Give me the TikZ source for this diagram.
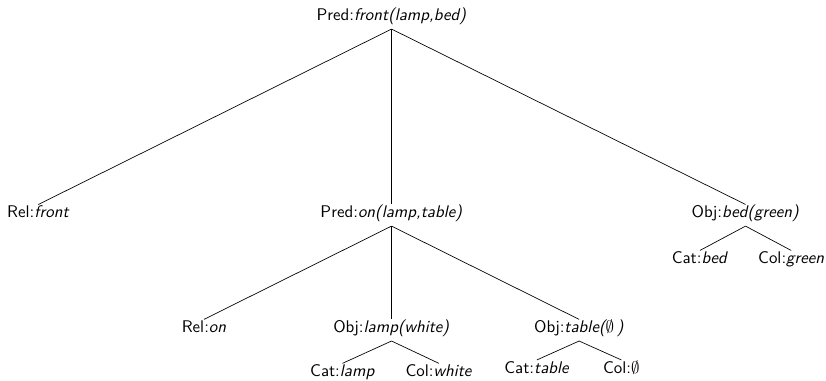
\documentclass[tikz,border=0pt]{standalone}
\usetikzlibrary{positioning}

\begin{document}
\begin{tikzpicture}[node distance=27pt,on grid,font=\sffamily,
   every node/.style={inner sep=1pt,text height=6.8pt,text depth=3.6pt}]
   \useasboundingbox (-231.7pt,10.8pt) rectangle (257.1pt,-214.6pt);
   \node (p_front) {Pred:\textit{front(lamp,bed)}};
   \node (r_front) [below left=116.6pt and 209pt of p_front] {Rel:\textit{front}};
   \node (p_on) [below=116.6pt of p_front] {Pred:\textit{on(lamp,table)}};
   \node (o_bed) [below right=116.6pt and 209.5pt of p_front] {Obj:\textit{bed(green)}};
   \node (c_bed) [below left=27.2pt and 27pt of o_bed] {Cat:\textit{bed}};
   \node (k_bed) [below right=27.2pt and 27pt of o_bed] {Col:\textit{green}};
   \node (r_on) [below left=68pt and 111pt of p_on] {Rel:\textit{on}};
   \node (o_lamp) [below=68pt of p_on] {Obj:\textit{lamp(white)}};
   \node (o_table) [below right=68pt and 111pt of p_on] {Obj:\textit{table($\emptyset$\,)}};
   \node (c_lamp) [below left=26pt and 29pt of o_lamp] {Cat:\textit{lamp}};
   \node (k_lamp) [below right=26pt and 28pt of o_lamp] {Col:\textit{white}};
   \node (c_table) [below left=24pt and 25pt of o_table] {Cat:\textit{table}};
   \node (k_table) [below right=24pt and 25pt of o_table] {Col:$\emptyset$};

   \path
   (p_front.south) edge (r_front.north)
                   edge (p_on.north)
                   edge (o_bed.north)
   (o_bed.south) edge (c_bed.north)
                 edge (k_bed.north)
   (p_on.south) edge (r_on.north)
                edge (o_lamp.north)
                edge (o_table.north)
   (o_lamp.south) edge (c_lamp.north)
                  edge (k_lamp.north)
   (o_table.south) edge (c_table.north)
                   edge (k_table.north);
\end{tikzpicture}
\end{document}
